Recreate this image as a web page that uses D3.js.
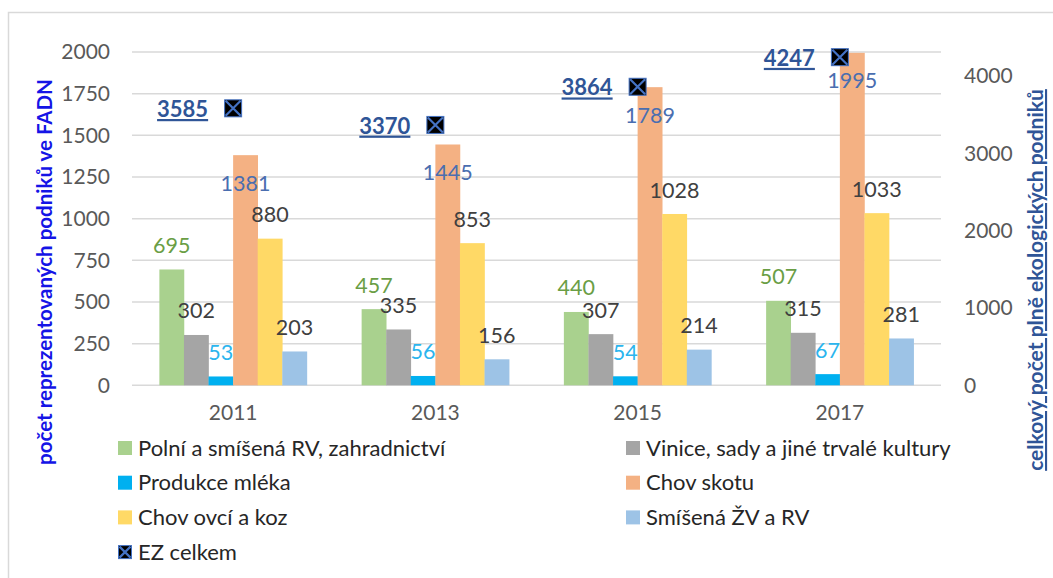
<!DOCTYPE html>
<html><head><meta charset="utf-8">
<script src="https://cdn.jsdelivr.net/npm/d3@7"></script>
<style>body{margin:0;background:#fff}svg{display:block}text{font-family:Lato,"Open Sans",sans-serif}</style>
</head><body><svg id="c" width="1053" height="578"></svg>
<script>
const years = ["2011","2013","2015","2017"];
const seriesNames = ["Polní a smíšená RV, zahradnictví","Vinice, sady a jiné trvalé kultury","Produkce mléka","Chov skotu","Chov ovcí a koz","Smíšená ŽV a RV"];
const polni = [695,457,440,507];
const vinice = [302,335,307,315];
const mleko = [53,56,54,67];
const skot = [1381,1445,1789,1995];
const ovce = [880,853,1028,1033];
const smisena = [203,156,214,281];
const ezCelkem = [3585,3370,3864,4247];
const leftTicks = [0,250,500,750,1000,1250,1500,1750,2000];
const rightTicks = [0,1000,2000,3000,4000];
const ezName = "EZ celkem";
const leftTitle = "počet reprezentovaných podniků ve FADN";
const rightTitle = "celkový počet plně ekologických podniků";

const seriesVals = [polni,vinice,mleko,skot,ovce,smisena];
const colors = ["#A9D18E","#A5A5A5","#00B0F0","#F4B183","#FFD966","#9DC3E6"];
const labelColors = ["#6A9E45","#404040","#2BB5EE","#4A6EB0","#404040","#404040"];

const svg = d3.select("#c");
const L=132,R=941,T=52,B=385.3;
const x = d3.scaleBand().domain(years).range([L,R]);
const xs = d3.scaleBand().domain(d3.range(6)).range([0,147.5]);
const y = d3.scaleLinear().domain([0,2000]).range([B,T]);
const y2 = d3.scaleLinear().domain([0,4314]).range([B,T]);
const fmt = d3.format("d");

// chart border
svg.append("rect").attr("x",8.5).attr("y",12.5).attr("width",1100).attr("height",700).attr("fill","none").attr("stroke","#D9D9D9").attr("stroke-width",1.5);

// gridlines
svg.append("g").selectAll("line").data(leftTicks).join("line")
 .attr("x1",L).attr("x2",R).attr("y1",d=>y(d)).attr("y2",d=>y(d))
 .attr("stroke","#D9D9D9").attr("stroke-width",1.5);

// left axis
const la = svg.append("g").attr("transform",`translate(${L},0)`)
 .call(d3.axisLeft(y).tickValues(leftTicks).tickFormat(fmt).tickSize(0).tickPadding(22));
la.select(".domain").remove();
la.selectAll("text").attr("font-size",21).attr("fill","#595959").attr("font-family","Lato");
// right axis
const ra = svg.append("g").attr("transform",`translate(${R},0)`)
 .call(d3.axisRight(y2).tickValues(rightTicks).tickFormat(fmt).tickSize(0).tickPadding(23));
ra.select(".domain").remove();
ra.selectAll("text").attr("font-size",21).attr("fill","#595959").attr("font-family","Lato");
// x axis
const xa = svg.append("g").attr("transform",`translate(0,${B})`)
 .call(d3.axisBottom(x).tickSize(0).tickPadding(20));
xa.select(".domain").remove();
xa.selectAll("text").attr("font-size",21).attr("fill","#595959").attr("font-family","Lato");

const off = x.bandwidth()/2 - 147.5/2;
// bars
seriesVals.forEach((vals,si)=>{
  const g = svg.append("g");
  g.selectAll("rect").data(vals).join("rect")
   .attr("x",(d,i)=>x(years[i])+off+xs(si))
   .attr("width",xs.bandwidth()+0.3)
   .attr("y",d=>y(d)).attr("height",d=>B-y(d)).attr("fill",colors[si]);
});
// labels
seriesVals.forEach((vals,si)=>{
  svg.append("g").selectAll("text").data(vals).join("text")
   .attr("x",(d,i)=>x(years[i])+off+xs(si)+xs.bandwidth()/2)
   .attr("y",d=> si===3 ? y(d)+28 : y(d)-24)
   .attr("dy","0.35em").attr("text-anchor","middle")
   .attr("font-size",21.5).attr("fill",labelColors[si]).text(d=>d);
});

// EZ markers
function marker(g,cx,cy,s){
  g.append("rect").attr("x",cx-s/2).attr("y",cy-s/2).attr("width",s).attr("height",s).attr("fill","#000").attr("stroke","#4472C4").attr("stroke-width",1);
  g.append("path").attr("d",`M${cx-s/2+1},${cy-s/2+1}L${cx+s/2-1},${cy+s/2-1}M${cx+s/2-1},${cy-s/2+1}L${cx-s/2+1},${cy+s/2-1}`).attr("stroke","#4472C4").attr("stroke-width",2.2);
}
const mg = svg.append("g");
ezCelkem.forEach((v,i)=>{
  const cx = x(years[i])+x.bandwidth()/2, cy = y2(v);
  marker(mg,cx,cy,17);
  mg.append("text").attr("x",cx-25).attr("y",cy+1).attr("dy","0.35em").attr("text-anchor","end")
   .attr("font-size",22).attr("font-weight","bold").attr("fill","#2F5597")
   .attr("text-decoration","underline").text(v);
});

// axis titles
svg.append("text").attr("transform","translate(52,272) rotate(-90)").attr("text-anchor","middle")
 .attr("font-size",20.5).attr("font-weight","bold").attr("fill","#1414E6").text(leftTitle);
svg.append("text").attr("transform","translate(1043,280) rotate(-90)").attr("text-anchor","middle")
 .attr("font-size",21).attr("font-weight","bold").attr("fill","#2F5597")
 .attr("text-decoration","underline").text(rightTitle);

// legend
const legItems = seriesNames.map((n,i)=>({name:n,color:colors[i]})).concat([{name:ezName,marker:true}]);
const lg = svg.append("g");
legItems.forEach((it,i)=>{
  const col=i%2,row=Math.floor(i/2);
  const lx = col===0?118:626, ly = 448+row*34.7;
  if(it.marker) marker(lg,lx+7,ly,13);
  else lg.append("rect").attr("x",lx).attr("y",ly-7).attr("width",14).attr("height",14).attr("fill",it.color);
  lg.append("text").attr("x",lx+20).attr("y",ly).attr("dy","0.35em").attr("font-size",22).attr("fill","#262626").text(it.name);
});
</script></body></html>
